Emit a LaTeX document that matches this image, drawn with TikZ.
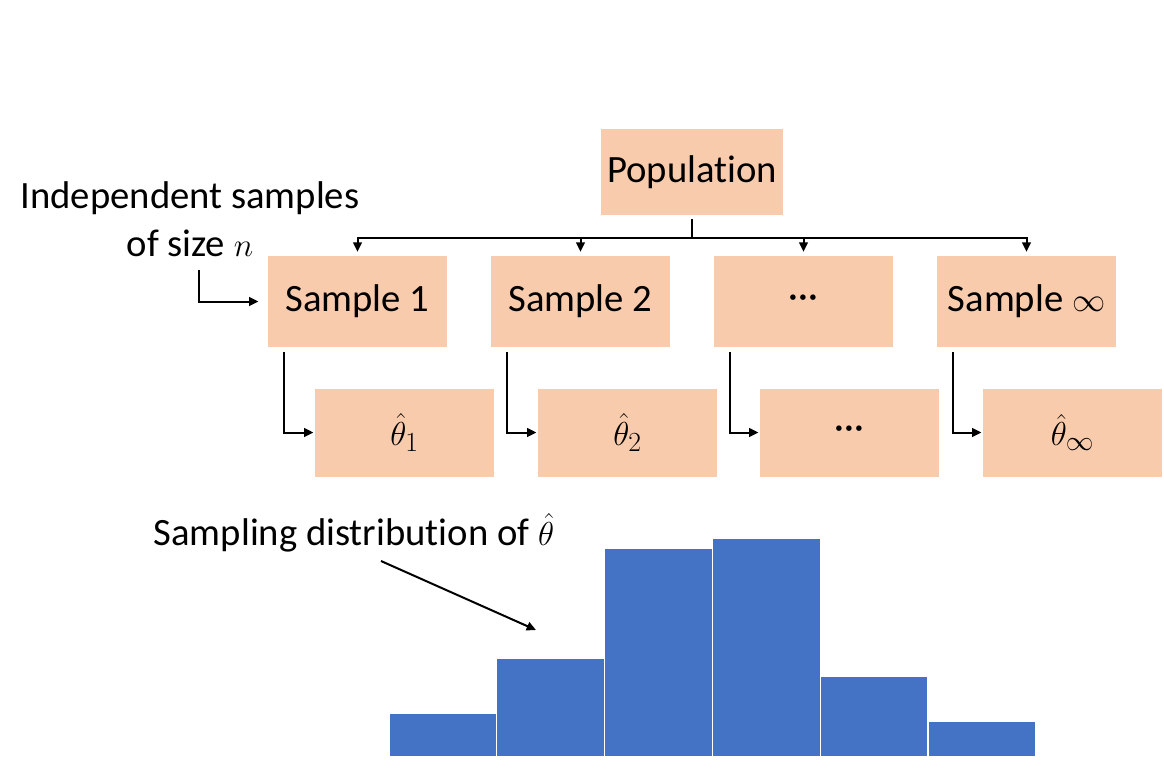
\documentclass[tikz,border=0pt]{standalone}
\usepackage{fontspec}
\setmainfont{Carlito}[Ligatures={NoCommon,NoContextual,NoRare}]
\usetikzlibrary{arrows.meta}
\definecolor{peach}{HTML}{F8CBAD}
\definecolor{barblue}{HTML}{4472C4}
\begin{document}
\begin{tikzpicture}[x=0.75pt,y=-0.75pt,
  txt/.style={inner sep=0pt, font=\fontsize{29}{36}\selectfont},
  box/.style={txt, fill=peach},
  popbox/.style={box, minimum width=136.5pt, minimum height=64.5pt},
  sbox/.style={box, minimum width=134.25pt, minimum height=68.25pt},
  tbox/.style={box, minimum width=134.25pt, minimum height=66pt},
  conn/.style={line width=1.5pt},
  arr/.style={conn, -{Triangle[length=7pt,width=6.5pt]}},
  bar/.style={fill=barblue, draw=white, line width=0.9pt}]
\useasboundingbox (0,0) rectangle (1164,772);

% boxes
\node[popbox] (pop) at (692,172) {Population};
\node[sbox] (s1) at (357.5,301.5) {Sample 1};
\node[sbox] (s2) at (580.5,301.5) {Sample 2};
\node[sbox] (s3) at (803.5,301.5) {···};
\node[sbox] (s4) at (1026.5,301.5) {Sample $\infty$};
\node[tbox] (t1) at (404.5,432.5) {$\hat{\theta}_1$};
\node[tbox] (t2) at (627.5,432.5) {$\hat{\theta}_2$};
\node[tbox] (t3) at (849.5,432.5) {···};
\node[tbox] (t4) at (1072.5,432.5) {$\hat{\theta}_\infty$};

% labels
\node[txt, align=center] (lab1) at (190,219) {Independent samples\\of size $n$};
\node[txt] (lab2) at (354,533) {Sampling distribution of $\hat{\theta}$};

% population to samples
\coordinate (bus) at (692,238);
\draw[conn, shorten <=3pt] (pop.south) -- (bus);
\foreach \s in {s1,s2,s3,s4}
  \draw[arr, shorten >=3pt] (bus) -| (\s.north);

% samples to estimates
\foreach \s/\t in {s1/t1,s2/t2,s3/t3,s4/t4}
  \draw[arr, shorten >=1pt] ([xshift=12pt,yshift=-3.5pt]\s.south west) |- (\t.west);

% label arrow to sample 1
\coordinate (c0) at (199,270);
\draw[arr, shorten >=7pt] (c0) |- (s1.west);

% histogram
\coordinate (hs) at (381,561);
\coordinate (he) at (536,630);
\draw[arr] (hs) -- (he);
\path[bar] (389,757) rectangle (496.8,713);
\path[bar] (496.8,757) rectangle (604.6,658);
\path[bar] (604.6,757) rectangle (712.4,548);
\path[bar] (712.4,757) rectangle (820.2,538);
\path[bar] (820.2,757) rectangle (928,676);
\path[bar] (928,757) rectangle (1036,721);
\end{tikzpicture}
\end{document}
